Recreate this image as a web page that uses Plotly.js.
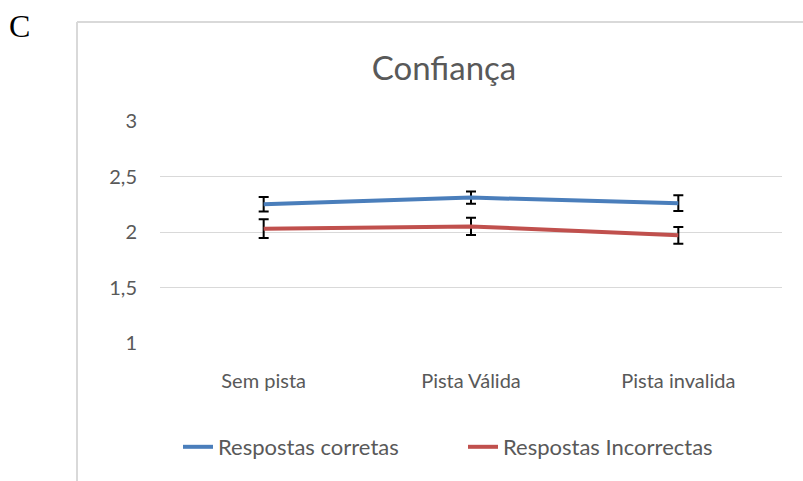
<!DOCTYPE html>
<html><head><meta charset="utf-8">
<script src="https://cdn.plot.ly/plotly-3.0.1.min.js"></script>
<style>html,body{margin:0;padding:0;background:#fff}#chart{width:803px;height:481px}</style>
</head><body><div id="chart"></div>
<script>
const categories = ["Sem pista", "Pista Válida", "Pista invalida"];
const corretas = [2.25, 2.31, 2.26];
const corretasErr = [0.065, 0.055, 0.07];
const incorretas = [2.03, 2.05, 1.97];
const incorretasErr = [0.085, 0.078, 0.075];
const yTicks = [1, 1.5, 2, 2.5, 3];
const yTickText = ["1", "1,5", "2", "2,5", "3"];

const F = "Lato, 'Open Sans', sans-serif";
const W = 803, H = 481, L = 160, R = 21, T = 121, B = 138;
const pw = W - L - R, ph = H - T - B;
const px = v => (v - L) / pw;
const py = v => 1 - (v - T) / ph;

const traces = [
  {x: categories, y: corretas, name: "Respostas corretas", type: "scatter", mode: "lines",
   line: {color: "#4a7ebb", width: 4},
   error_y: {type: "data", array: corretasErr, visible: true, color: "#000", thickness: 2, width: 5}},
  {x: categories, y: incorretas, name: "Respostas Incorrectas", type: "scatter", mode: "lines",
   line: {color: "#c0504d", width: 4},
   error_y: {type: "data", array: incorretasErr, visible: true, color: "#000", thickness: 2, width: 5}}
];

const layout = {
  width: W, height: H,
  margin: {l: L, r: R, t: T, b: B},
  paper_bgcolor: "#fff", plot_bgcolor: "#fff",
  font: {family: F, color: "#595959", size: 20},
  title: {text: "Confiança", font: {family: F, size: 33, color: "#595959"},
          x: px(444), xref: "paper", xanchor: "center", y: 1 - 68 / H, yanchor: "middle"},
  xaxis: {type: "category", showgrid: false, zeroline: false, showline: false,
          ticks: "", tickfont: {family: F, size: 20, color: "#595959"},
          ticklabelstandoff: 24, range: [-0.5, 2.5], fixedrange: true},
  yaxis: {range: [1, 3], tickvals: yTicks, ticktext: yTickText, showgrid: true,
          gridcolor: "#d9d9d9", gridwidth: 1, zeroline: false, showline: false, ticks: "",
          tickfont: {family: F, size: 20, color: "#595959"}, ticklabelstandoff: 22, fixedrange: true},
  showlegend: true,
  legend: {orientation: "h", x: px(463), xanchor: "center", y: py(447), yanchor: "middle",
           font: {family: F, size: 22, color: "#595959"}, entrywidth: 240, entrywidthmode: "pixels",
           tracegroupgap: 0, bgcolor: "rgba(0,0,0,0)"},
  shapes: [
    {type: "line", xref: "paper", yref: "paper", x0: px(77), x1: px(77), y0: py(22), y1: py(500),
     line: {color: "#d9d9d9", width: 2}},
    {type: "line", xref: "paper", yref: "paper", x0: px(77), x1: px(820), y0: py(22), y1: py(22),
     line: {color: "#d9d9d9", width: 2}}
  ],
  annotations: [
    {text: "C", xref: "paper", yref: "paper", x: px(7), y: py(26), xanchor: "left", yanchor: "middle",
     showarrow: false, font: {family: "'Liberation Serif', 'Times New Roman', serif", size: 32, color: "#000"}}
  ]
};

Plotly.newPlot("chart", traces, layout, {displayModeBar: false, staticPlot: true});
</script></body></html>
